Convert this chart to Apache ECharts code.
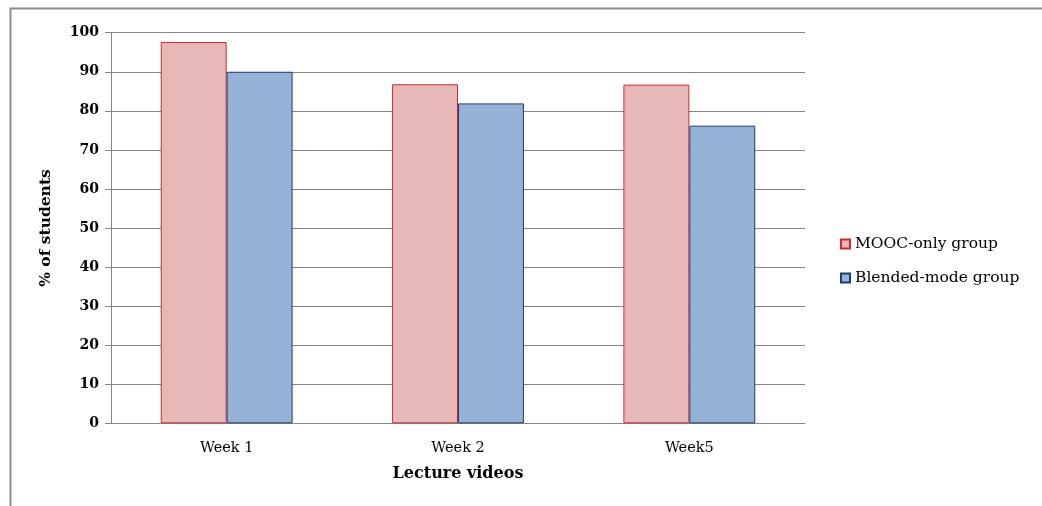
<!DOCTYPE html>
<html><head><meta charset="utf-8">
<script src="https://cdn.jsdelivr.net/npm/echarts@6/dist/echarts.min.js"></script>
<style>html,body{margin:0;padding:0;background:#fff}#c{width:1042px;height:506px}</style>
</head><body><div id="c"></div>
<script>
const categories = ['Week 1', 'Week 2', 'Week5'];
const moocOnly = [97.6, 86.8, 86.7];
const blended = [90.0, 81.9, 76.2];
const yTicks = {min: 0, max: 100, interval: 10};
const seriesNames = ['MOOC-only group', 'Blended-mode group'];

const F = '"DejaVu Serif", "Liberation Serif", serif';
const chart = echarts.init(document.getElementById('c'), null, {renderer: 'canvas'});
chart.setOption({
  backgroundColor: '#fff',
  animation: false,
  graphic: [{type: 'rect', shape: {x: 10.5, y: 8.5, width: 1100, height: 600},
    style: {fill: 'none', stroke: '#8c8c8c', lineWidth: 2}, silent: true}],
  grid: {left: 111, top: 32.7, width: 694, height: 390.6, containLabel: false},
  legend: {
    orient: 'vertical', left: 835, top: 231,
    itemWidth: 9, itemHeight: 9, icon: 'rect', itemGap: 18,
    textStyle: {fontFamily: F, fontSize: 15.5, color: '#000'},
    data: seriesNames
  },
  xAxis: {
    type: 'category', data: categories,
    name: 'Lecture videos', nameLocation: 'middle', nameGap: 43,
    nameTextStyle: {fontFamily: F, fontSize: 16, fontWeight: 'bold', color: '#000'},
    axisLine: {lineStyle: {color: '#868686', width: 1}},
    axisTick: {show: false},
    axisLabel: {fontFamily: F, fontSize: 14.5, color: '#000', margin: 17}
  },
  yAxis: {
    type: 'value', min: yTicks.min, max: yTicks.max, interval: yTicks.interval,
    name: '% of students', nameLocation: 'middle', nameGap: 57, nameRotate: 90,
    nameTextStyle: {fontFamily: F, fontSize: 15.5, fontWeight: 'bold', color: '#000'},
    axisLine: {show: true, lineStyle: {color: '#868686'}},
    axisTick: {show: true, length: 6, lineStyle: {color: '#868686'}},
    axisLabel: {fontFamily: F, fontSize: 14, fontWeight: 'bold', color: '#000', margin: 12},
    splitLine: {lineStyle: {color: '#868686', width: 1}}
  },
  series: [
    {name: seriesNames[0], type: 'bar', data: moocOnly, barGap: '0%', barCategoryGap: '43%',
      itemStyle: {color: '#E6B9B8', borderColor: '#D7262B', borderWidth: 1}},
    {name: seriesNames[1], type: 'bar', data: blended, barGap: '0%', barCategoryGap: '43%',
      itemStyle: {color: '#95B3D7', borderColor: '#1F3C74', borderWidth: 1}}
  ]
});
</script></body></html>
